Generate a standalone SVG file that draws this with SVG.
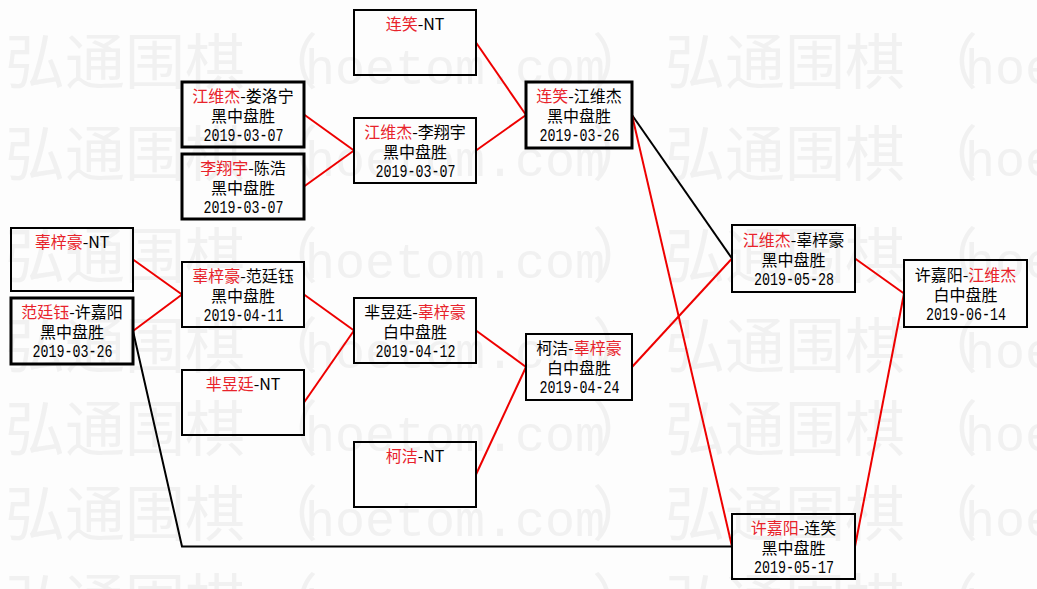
<svg xmlns="http://www.w3.org/2000/svg" width="1037" height="589" viewBox="0 0 1037 589">
<style>
.wm{fill:#f1f1f1}
.wc{font-family:"Noto Sans CJK SC",sans-serif;font-size:60px}
.wp{font-family:"Noto Sans CJK JP",sans-serif;font-size:60px}
.wl{font-family:"Liberation Mono",monospace;font-size:50px}
.box{fill:none;stroke:#000;stroke-width:2}
.bx3{fill:none;stroke:#000;stroke-width:3}
.t{font-family:"Noto Sans CJK SC",sans-serif;font-size:16px;fill:#000;text-anchor:middle}
.d{font-family:"Liberation Mono",monospace;font-size:19px;fill:#000;text-anchor:middle}
.r{fill:#e8232b}
.lr{fill:none;stroke:#ee0000;stroke-width:2}
.lb{fill:none;stroke:#000;stroke-width:2}
</style>
<rect x="0" y="0" width="1037" height="589" fill="#fdfdfd"/>
<g id="watermark">
<text class="wm" y="84"><tspan class="wc" x="5 65 125 185">弘通围棋</tspan><tspan class="wp" x="258">（</tspan><tspan class="wl" x="305 335 365 395 425 455 485 515 545 575">hoetom.com</tspan><tspan class="wp" x="592">）</tspan><tspan class="wc" x="665 725 785 845">弘通围棋</tspan><tspan class="wp" x="918">（</tspan><tspan class="wl" x="965 995 1025">hoe</tspan></text>
<text class="wm" y="176"><tspan class="wc" x="5 65 125 185">弘通围棋</tspan><tspan class="wp" x="258">（</tspan><tspan class="wl" x="305 335 365 395 425 455 485 515 545 575">hoetom.com</tspan><tspan class="wp" x="592">）</tspan><tspan class="wc" x="665 725 785 845">弘通围棋</tspan><tspan class="wp" x="918">（</tspan><tspan class="wl" x="965 995 1025">hoe</tspan></text>
<text class="wm" y="278"><tspan class="wc" x="5 65 125 185">弘通围棋</tspan><tspan class="wp" x="258">（</tspan><tspan class="wl" x="305 335 365 395 425 455 485 515 545 575">hoetom.com</tspan><tspan class="wp" x="592">）</tspan><tspan class="wc" x="665 725 785 845">弘通围棋</tspan><tspan class="wp" x="918">（</tspan><tspan class="wl" x="965 995 1025">hoe</tspan></text>
<text class="wm" y="368"><tspan class="wc" x="5 65 125 185">弘通围棋</tspan><tspan class="wp" x="258">（</tspan><tspan class="wl" x="305 335 365 395 425 455 485 515 545 575">hoetom.com</tspan><tspan class="wp" x="592">）</tspan><tspan class="wc" x="665 725 785 845">弘通围棋</tspan><tspan class="wp" x="918">（</tspan><tspan class="wl" x="965 995 1025">hoe</tspan></text>
<text class="wm" y="451"><tspan class="wc" x="5 65 125 185">弘通围棋</tspan><tspan class="wp" x="258">（</tspan><tspan class="wl" x="305 335 365 395 425 455 485 515 545 575">hoetom.com</tspan><tspan class="wp" x="592">）</tspan><tspan class="wc" x="665 725 785 845">弘通围棋</tspan><tspan class="wp" x="918">（</tspan><tspan class="wl" x="965 995 1025">hoe</tspan></text>
<text class="wm" y="536"><tspan class="wc" x="5 65 125 185">弘通围棋</tspan><tspan class="wp" x="258">（</tspan><tspan class="wl" x="305 335 365 395 425 455 485 515 545 575">hoetom.com</tspan><tspan class="wp" x="592">）</tspan><tspan class="wc" x="665 725 785 845">弘通围棋</tspan><tspan class="wp" x="918">（</tspan><tspan class="wl" x="965 995 1025">hoe</tspan></text>
<text class="wm" y="624"><tspan class="wc" x="5 65 125 185">弘通围棋</tspan><tspan class="wp" x="258">（</tspan><tspan class="wl" x="305 335 365 395 425 455 485 515 545 575">hoetom.com</tspan><tspan class="wp" x="592">）</tspan><tspan class="wc" x="665 725 785 845">弘通围棋</tspan><tspan class="wp" x="918">（</tspan><tspan class="wl" x="965 995 1025">hoe</tspan></text>
</g>
<g id="connectors">
<polyline class="lr" points="476,42.5 526,115"/>
<polyline class="lr" points="304,114.5 354,150.5"/>
<polyline class="lr" points="304,186.5 354,150.5"/>
<polyline class="lr" points="476,150.5 526,115"/>
<polyline class="lb" points="632,115 732,258.5"/>
<polyline class="lr" points="632,115 732,546.5"/>
<polyline class="lr" points="133,259.5 182,294.5"/>
<polyline class="lr" points="133,331 182,294.5"/>
<polyline class="lb" points="133,331 182,546.5 732,546.5"/>
<polyline class="lr" points="304,294.5 354,330.5"/>
<polyline class="lr" points="304,402.5 354,330.5"/>
<polyline class="lr" points="476,330.5 526,367"/>
<polyline class="lr" points="476,474.5 526,367"/>
<polyline class="lr" points="632,367 732,258.5"/>
<polyline class="lr" points="855,258.5 904,293.5"/>
<polyline class="lr" points="855,546.5 904,293.5"/>
</g>
<g id="n1"><rect class="box" x="354" y="10" width="122" height="65"/><text class="t" x="415" y="30"><tspan class="r">连笑</tspan>-NT</text></g>
<g id="n2"><rect class="bx3" x="182" y="82" width="122" height="65"/><text class="t" x="243" y="102"><tspan class="r">江维杰</tspan>-娄洛宁</text><text class="t" x="243" y="122">黑中盘胜</text><text class="d" x="243.5" y="141" textLength="80" lengthAdjust="spacingAndGlyphs">2019-03-07</text></g>
<g id="n3"><rect class="bx3" x="182" y="154" width="122" height="65"/><text class="t" x="243" y="174"><tspan class="r">李翔宇</tspan>-陈浩</text><text class="t" x="243" y="194">黑中盘胜</text><text class="d" x="243.5" y="213" textLength="80" lengthAdjust="spacingAndGlyphs">2019-03-07</text></g>
<g id="n4"><rect class="box" x="354" y="118" width="122" height="65"/><text class="t" x="415" y="138"><tspan class="r">江维杰</tspan>-李翔宇</text><text class="t" x="415" y="158">黑中盘胜</text><text class="d" x="415.5" y="177" textLength="80" lengthAdjust="spacingAndGlyphs">2019-03-07</text></g>
<g id="n5"><rect class="bx3" x="526" y="82" width="106" height="66"/><text class="t" x="579" y="102"><tspan class="r">连笑</tspan>-江维杰</text><text class="t" x="579" y="122">黑中盘胜</text><text class="d" x="579.5" y="141" textLength="80" lengthAdjust="spacingAndGlyphs">2019-03-26</text></g>
<g id="n6"><rect class="box" x="11" y="228" width="122" height="63"/><text class="t" x="72" y="248"><tspan class="r">辜梓豪</tspan>-NT</text></g>
<g id="n7"><rect class="bx3" x="11" y="298" width="122" height="66"/><text class="t" x="72" y="318"><tspan class="r">范廷钰</tspan>-许嘉阳</text><text class="t" x="72" y="338">黑中盘胜</text><text class="d" x="72.5" y="357" textLength="80" lengthAdjust="spacingAndGlyphs">2019-03-26</text></g>
<g id="n8"><rect class="box" x="182" y="262" width="122" height="65"/><text class="t" x="243" y="282"><tspan class="r">辜梓豪</tspan>-范廷钰</text><text class="t" x="243" y="302">黑中盘胜</text><text class="d" x="243.5" y="321" textLength="80" lengthAdjust="spacingAndGlyphs">2019-04-11</text></g>
<g id="n9"><rect class="box" x="354" y="298" width="122" height="65"/><text class="t" x="415" y="318">芈昱廷-<tspan class="r">辜梓豪</tspan></text><text class="t" x="415" y="338">白中盘胜</text><text class="d" x="415.5" y="357" textLength="80" lengthAdjust="spacingAndGlyphs">2019-04-12</text></g>
<g id="n10"><rect class="box" x="182" y="370" width="122" height="65"/><text class="t" x="243" y="390"><tspan class="r">芈昱廷</tspan>-NT</text></g>
<g id="n11"><rect class="box" x="354" y="442" width="122" height="65"/><text class="t" x="415" y="462"><tspan class="r">柯洁</tspan>-NT</text></g>
<g id="n12"><rect class="box" x="526" y="334" width="106" height="66"/><text class="t" x="579" y="354">柯洁-<tspan class="r">辜梓豪</tspan></text><text class="t" x="579" y="374">白中盘胜</text><text class="d" x="579.5" y="393" textLength="80" lengthAdjust="spacingAndGlyphs">2019-04-24</text></g>
<g id="n13"><rect class="box" x="732" y="225" width="123" height="67"/><text class="t" x="793.5" y="246"><tspan class="r">江维杰</tspan>-辜梓豪</text><text class="t" x="793.5" y="266">黑中盘胜</text><text class="d" x="794" y="285" textLength="80" lengthAdjust="spacingAndGlyphs">2019-05-28</text></g>
<g id="n14"><rect class="box" x="732" y="514" width="123" height="65"/><text class="t" x="793.5" y="534"><tspan class="r">许嘉阳</tspan>-连笑</text><text class="t" x="793.5" y="554">黑中盘胜</text><text class="d" x="794" y="573" textLength="80" lengthAdjust="spacingAndGlyphs">2019-05-17</text></g>
<g id="n15"><rect class="box" x="904" y="260" width="123" height="67"/><text class="t" x="965.5" y="281">许嘉阳-<tspan class="r">江维杰</tspan></text><text class="t" x="965.5" y="301">白中盘胜</text><text class="d" x="966" y="320" textLength="80" lengthAdjust="spacingAndGlyphs">2019-06-14</text></g>
</svg>
